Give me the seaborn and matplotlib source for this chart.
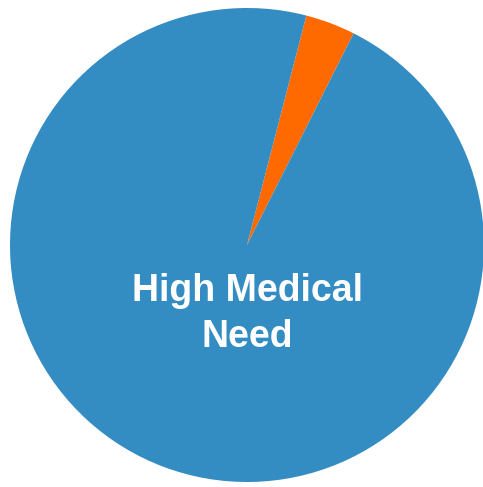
import matplotlib
matplotlib.use("Agg")
import matplotlib.pyplot as plt
import seaborn as sns

categories = ["Other", "High Medical Need"]
values = [3.4, 96.6]
colors = ["#FF6A00", "#338CC2"]
label_text = "High Medical\nNeed"

sns.set_theme(style="white")
plt.rcParams['font.family'] = ['Liberation Sans', 'DejaVu Sans']

W, H = 483, 487
fig = plt.figure(figsize=(W / 100, H / 100), dpi=100)
cx, cy, r = 247, 245, 237
ax = fig.add_axes([(cx - r) / W, (H - cy - r) / H, 2 * r / W, 2 * r / H])
pal = sns.color_palette(colors)
ax.pie(values, colors=pal, startangle=75.5, counterclock=False,
       wedgeprops=dict(linewidth=0))
ax.set_xlim(-1, 1)
ax.set_ylim(-1, 1)
ax.set_aspect("equal")
ax.axis("off")
ax.text(0.0, -0.292, label_text, ha="center", va="center", color="white",
        fontsize=27, fontweight="bold", linespacing=1.35)
fig.savefig("out.png", dpi=100, facecolor="white")
